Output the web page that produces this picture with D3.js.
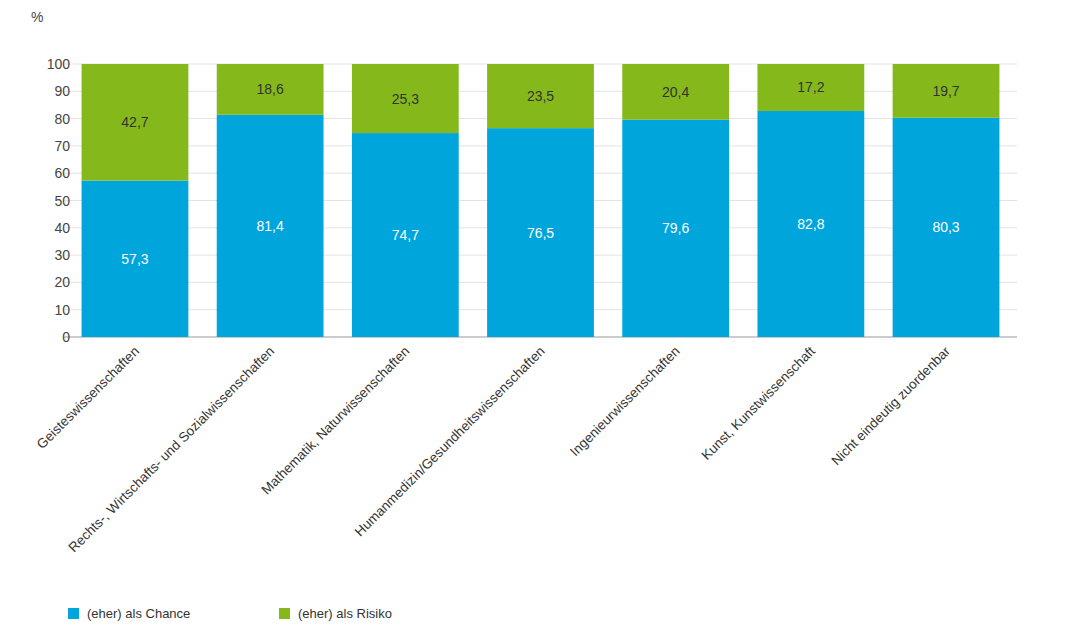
<!DOCTYPE html>
<html lang="de">
<head>
<meta charset="UTF-8">
<script src="https://d3js.org/d3.v7.min.js"></script>
<style>
  body, html { margin: 0; background: #fff; font-family: "Liberation Sans", Arial, sans-serif; }
</style>
</head>
<body>
<div id="chart"></div>
<script>
const categories = ["Geisteswissenschaften", "Rechts-, Wirtschafts- und Sozialwissenschaften",
  "Mathematik, Naturwissenschaften", "Humanmedizin/Gesundheitswissenschaften",
  "Ingenieurwissenschaften", "Kunst, Kunstwissenschaft", "Nicht eindeutig zuordenbar"];
const chance = [57.3, 81.4, 74.7, 76.5, 79.6, 82.8, 80.3];
const risiko = [42.7, 18.6, 25.3, 23.5, 20.4, 17.2, 19.7];
const seriesNames = ["(eher) als Chance", "(eher) als Risiko"];
const colors = ["#00a5dc", "#84b81b"];
const yTicks = [0, 10, 20, 30, 40, 50, 60, 70, 80, 90, 100];

const width = 1080, height = 632;
const svg = d3.select("#chart").append("svg").attr("width", width).attr("height", height);
const fmt = v => v.toFixed(1).replace(".", ",");

const x = d3.scaleBand().domain(categories).range([64, 1017]).paddingInner(0.21).paddingOuter(0.13);
const y = d3.scaleLinear().domain([0, 100]).range([337, 64]);

// grid
svg.append("g").selectAll("line").data(yTicks).enter().append("line")
  .attr("x1", 64).attr("x2", 1017)
  .attr("y1", d => y(d)).attr("y2", d => y(d))
  .attr("stroke", d => d === 0 ? "#999" : "#e3e3e3").attr("stroke-width", 1);

svg.append("g").selectAll("text").data(yTicks).enter().append("text")
  .attr("x", 70).attr("y", d => y(d) + 5).attr("text-anchor", "end")
  .attr("font-size", 14).attr("fill", "#444").text(d => d);

svg.append("text").attr("x", 31).attr("y", 22).attr("font-size", 14).attr("fill", "#444").text("%");

// bars
const g = svg.append("g");
categories.forEach((c, i) => {
  g.append("rect").attr("x", x(c)).attr("width", x.bandwidth())
    .attr("y", y(chance[i])).attr("height", y(0) - y(chance[i])).attr("fill", colors[0]);
  g.append("rect").attr("x", x(c)).attr("width", x.bandwidth())
    .attr("y", y(chance[i] + risiko[i])).attr("height", y(0) - y(risiko[i])).attr("fill", colors[1]);
  g.append("text").attr("x", x(c) + x.bandwidth() / 2).attr("y", y(chance[i] / 2) + 5)
    .attr("text-anchor", "middle").attr("font-size", 14).attr("fill", "#fff").text(fmt(chance[i]));
  g.append("text").attr("x", x(c) + x.bandwidth() / 2).attr("y", y(chance[i] + risiko[i] / 2) + 5)
    .attr("text-anchor", "middle").attr("font-size", 14).attr("fill", "#333").text(fmt(risiko[i]));
  g.append("text")
    .attr("transform", `translate(${x(c) + x.bandwidth() / 2 + 5},${352}) rotate(-45)`)
    .attr("text-anchor", "end").attr("font-size", 13.5).attr("fill", "#333").text(c);
});

// legend
const lx = [68, 279];
seriesNames.forEach((s, i) => {
  svg.append("rect").attr("x", lx[i]).attr("y", 608).attr("width", 11).attr("height", 11).attr("fill", colors[i]);
  svg.append("text").attr("x", lx[i] + 19).attr("y", 618).attr("font-size", 13).attr("fill", "#333").text(s);
});
</script>
</body>
</html>
